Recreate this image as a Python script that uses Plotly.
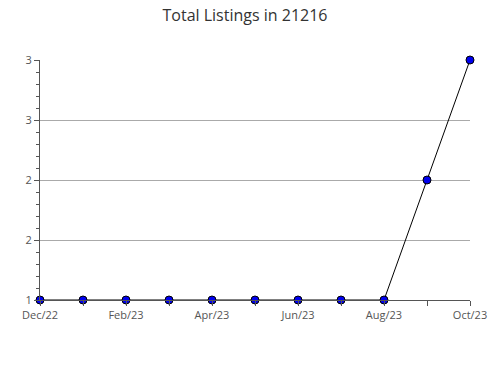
import plotly.graph_objects as go

months = ["Dec/22", "Jan/23", "Feb/23", "Mar/23", "Apr/23", "May/23", "Jun/23",
          "Jul/23", "Aug/23", "Sep/23", "Oct/23"]
listings = [1, 1, 1, 1, 1, 1, 1, 1, 1, 2, 3]
y_tickvals = [1, 1.5, 2, 2.5, 3]
y_ticktext = ["1", "2", "2", "3", "3"]

x_idx = list(range(len(months)))
x_ticktext = [m if i % 2 == 0 else "" for i, m in enumerate(months)]

fig = go.Figure()
fig.add_trace(go.Scatter(
    x=x_idx, y=listings, mode="lines+markers",
    line=dict(color="black", width=1),
    marker=dict(symbol="circle", size=8, color="#0000ee",
                line=dict(color="black", width=1)),
    cliponaxis=False, hoverinfo="skip",
))

fig.update_layout(
    width=490, height=380,
    margin=dict(l=40, r=20, t=60, b=80, autoexpand=False),
    paper_bgcolor="white", plot_bgcolor="white",
    font=dict(family="Open Sans", size=11, color="#555"),
    title=dict(text="Total Listings in 21216", x=0.5, xanchor="center",
               y=0.96, yanchor="middle",
               font=dict(family="Open Sans", size=16, color="#333")),
    showlegend=False,
)
fig.update_xaxes(
    range=[0, 10], tickvals=x_idx, ticktext=x_ticktext,
    ticks="outside", ticklen=5, tickcolor="#555", tickwidth=1,
    showline=True, linecolor="#555", linewidth=1, automargin=False,
    showgrid=False, zeroline=False, tickfont=dict(size=11, color="#555"),
    layer="above traces",
)
fig.update_yaxes(
    range=[1, 3], tickvals=y_tickvals, ticktext=y_ticktext,
    ticks="outside", ticklen=5, tickcolor="#555", tickwidth=1,
    showline=True, linecolor="#555", linewidth=1, automargin=False,
    showgrid=True, gridcolor="#aaaaaa", gridwidth=1, zeroline=False,
    tickfont=dict(size=11, color="#555"),
    minor=dict(dtick=0.1, tick0=1, ticks="outside", ticklen=3,
               tickcolor="#555", showgrid=False),
)

fig.write_html("out.html")
